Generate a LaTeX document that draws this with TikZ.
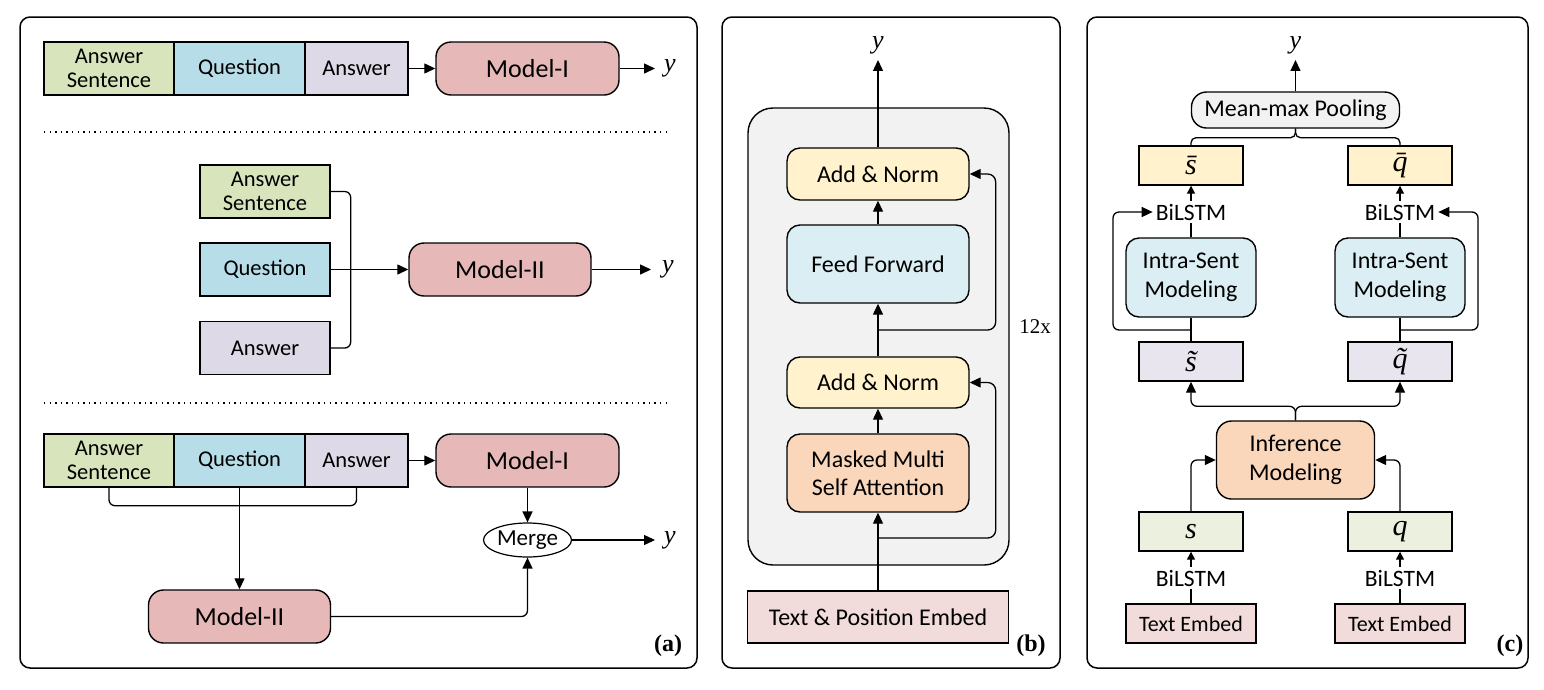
\documentclass[tikz,border=0pt]{standalone}
\usepackage{fontspec}
\setmainfont{Carlito}
\newfontfamily\tms{Liberation Serif}
\usepackage{tikz}
\usetikzlibrary{calc,arrows.meta,shapes.geometric}
\definecolor{sentc}{HTML}{D7E4BC}
\definecolor{questc}{HTML}{B7DEE8}
\definecolor{answc}{HTML}{DDD9E6}
\definecolor{modelc}{HTML}{E6B8B7}
\definecolor{normc}{HTML}{FFF2CC}
\definecolor{ffc}{HTML}{DBEEF4}
\definecolor{attc}{HTML}{FAD7BA}
\definecolor{embc}{HTML}{F2DCDB}
\definecolor{greyc}{HTML}{F2F2F2}
\definecolor{tilc}{HTML}{E8E5EF}
\definecolor{vecc}{HTML}{EBF1DE}
\newcommand{\vy}{{\tms\itshape y}}
\newcommand{\vv}[1]{{\tms\itshape #1}}
% combining macron / tilde keep the accent in the same word
\newcommand{\vbar}[1]{{\tms\itshape #1^^^^0304}}
\newcommand{\vtil}[1]{{\tms\itshape #1^^^^0303}}
\tikzset{
  frame/.style={draw, line width=1.5pt, rounded corners=10pt},
  seg/.style={draw, line width=1.4pt, minimum height=53pt, inner sep=0pt, align=center, font=\fontsize{22.5}{24}\selectfont},
  model/.style={draw, line width=1.4pt, fill=modelc, rounded corners=15pt, minimum width=183pt, minimum height=53pt, font=\fontsize{26}{30}\selectfont},
  blk/.style={draw, line width=1.4pt, rounded corners=13pt, minimum width=182pt, align=center, font=\fontsize{24}{28.5}\selectfont},
  vec/.style={draw, line width=1.4pt, minimum width=104pt, minimum height=39pt, inner sep=0pt, font=\fontsize{30}{34}\selectfont},
  emb/.style={draw, line width=1.4pt, fill=embc, minimum height=39pt, inner sep=0pt, font=\fontsize{22}{26}\selectfont},
  lbl/.style={inner sep=3pt, font=\fontsize{23.5}{26}\selectfont},
  ylab/.style={inner sep=2pt, font=\fontsize{26}{30}\selectfont},
  tag/.style={font=\fontsize{24}{28}\selectfont\tms\bfseries},
  conn/.style={line width=1.3pt},
  arr/.style={conn, -{Triangle[length=11pt,width=10pt]}},
  sarr/.style={conn, -{Triangle[length=8pt,width=8pt]}},
  sep/.style={line width=1.4pt, dash pattern=on 1.4pt off 4.2pt},
}

\begin{document}
\begin{tikzpicture}[x=1pt,y=-1pt]
  \useasboundingbox (0,0) rectangle (1544,689);

  % (a) three ways of combining the models
  \draw[frame] (20,17) rectangle (697,668);
  \node[seg, fill=sentc, minimum width=130pt] (as1) at (109,68.5) {Answer\\Sentence};
  \node[seg, fill=questc, minimum width=131pt] (q1) at (239.5,68.5) {Question};
  \node[seg, fill=answc, minimum width=103pt] (a1) at (356.5,68.5) {Answer};
  \node[model] (m1) at (527.5,68.5) {Model-I};
  \node[ylab] (y1) at (670,68.5) {\vy};
  \draw[arr] (a1) -- (m1);
  \draw[arr, shorten >=7pt] (m1) -- (y1);

  \draw[sep] (44,132) -- (668,132);

  \node[seg, fill=sentc, minimum width=130pt] (as2) at (265,191.5) {Answer\\Sentence};
  \node[seg, fill=questc, minimum width=130pt] (q2) at (265,269.5) {Question};
  \node[seg, fill=answc, minimum width=130pt] (a2) at (265,348) {Answer};
  \node[model, minimum width=182pt] (m2) at (500,269.5) {Model-II};
  \node[ylab] (y2) at (668,269.5) {\vy};
  \draw[conn, rounded corners=6pt] (as2.east) -- ++(20,0) |- (a2.east);
  \draw[arr] (q2) -- (m2);
  \draw[arr, shorten >=9pt] (m2) -- (y2);

  \draw[sep] (44,403) -- (668,403);

  \node[seg, fill=sentc, minimum width=130pt] (as3) at (109,460.5) {Answer\\Sentence};
  \node[seg, fill=questc, minimum width=131pt] (q3) at (239.5,460.5) {Question};
  \node[seg, fill=answc, minimum width=103pt] (a3) at (356.5,460.5) {Answer};
  \node[model] (m3) at (527.5,460.5) {Model-I};
  \node[model, minimum width=182pt] (m4) at (239.5,616.5) {Model-II};
  \node[draw, ellipse, line width=1.2pt, fill=white, minimum width=88pt, minimum height=34pt, inner sep=0pt, font=\fontsize{23}{26}\selectfont] (mrg) at (527.5,540) {Merge};
  \node[ylab] (y3) at (670,540) {\vy};
  \draw[conn, rounded corners=6pt] (as3.south) -- ++(0,18) -| (a3.south);
  \draw[arr] (q3) -- (m4);
  \draw[arr] (a3) -- (m3);
  \draw[arr] (m3) -- (mrg);
  \draw[arr, rounded corners=6pt] (m4.east) -| (mrg.south);
  \draw[arr, shorten >=7pt] (mrg) -- (y3);
  \node[tag] (ta) at (668,646) {(a)};

  % (b) decoder stack
  \draw[frame] (722,17) rectangle (1060,668);
  \draw[line width=1.4pt, fill=greyc, rounded corners=25pt] (748,108) rectangle (1009,565);
  \node[blk, fill=normc, minimum height=52pt] (an1) at (878,174) {Add \& Norm};
  \node[blk, fill=ffc, minimum height=78pt] (ff) at (878,264) {Feed Forward};
  \node[blk, fill=normc, minimum height=51pt] (an2) at (878,382.5) {Add \& Norm};
  \node[blk, fill=attc, minimum height=78pt] (mma) at (878,473) {Masked Multi\\Self Attention};
  \node[emb, minimum width=261pt, minimum height=52pt, font=\fontsize{24}{28}\selectfont] (tpe) at (878,617) {Text \& Position Embed};
  \node[ylab] (yb) at (878,45) {\vy};
  \node[font=\fontsize{21}{24}\selectfont\tms] (rep) at (1035,327) {12x};
  \coordinate (sk1) at (878,330);
  \coordinate (sk2) at (878,538);
  \draw[arr] (tpe) -- (mma);
  \draw[arr] (mma) -- (an2);
  \draw[arr] (an2) -- (ff);
  \draw[arr] (ff) -- (an1);
  \draw[arr, shorten >=4pt] (an1) -- (yb);
  \draw[arr, rounded corners=8pt] (sk2) -| ([xshift=26pt]an2.east) -- (an2.east);
  \draw[arr, rounded corners=8pt] (sk1) -| ([xshift=26pt]an1.east) -- (an1.east);
  \node[tag] (tb) at (1031,646) {(b)};

  % (c) two-branch model
  \draw[frame] (1087,17) rectangle (1528,668);
  \node[blk, fill=greyc, minimum width=208pt, minimum height=36pt, rounded corners=15pt, inner sep=0pt] (pool) at (1295.5,110) {Mean-max Pooling};
  \node[vec, fill=normc] (sb) at (1191,165.5) {\vbar{s}};
  \node[vec, fill=normc] (qb) at (1400,165.5) {\vbar{q}};
  \node[lbl] (bl1) at (1191,212) {BiLSTM};
  \node[lbl] (bl2) at (1400,212) {BiLSTM};
  \node[blk, fill=ffc, minimum width=130pt, minimum height=79pt] (is1) at (1191,277.5) {Intra-Sent\\Modeling};
  \node[blk, fill=ffc, minimum width=130pt, minimum height=79pt] (is2) at (1400,277.5) {Intra-Sent\\Modeling};
  \node[vec, fill=tilc] (st) at (1191,361.5) {\vtil{s}};
  \node[vec, fill=tilc] (qt) at (1400,361.5) {\vtil{q}};
  \node[blk, fill=attc, minimum width=158pt, minimum height=78pt, rounded corners=15pt] (inf) at (1295.5,460) {Inference\\Modeling};
  \node[vec, fill=vecc] (sv) at (1191,531.5) {\vv{s}};
  \node[vec, fill=vecc] (qv) at (1400,531.5) {\vv{q}};
  \node[lbl] (bl3) at (1191,578) {BiLSTM};
  \node[lbl] (bl4) at (1400,578) {BiLSTM};
  \node[emb, minimum width=130pt] (te1) at (1191,623.5) {Text Embed};
  \node[emb, minimum width=130pt] (te2) at (1400,623.5) {Text Embed};
  \node[ylab] (yc) at (1295.5,45) {\vy};
  \coordinate (sk3) at (1191,330);
  \coordinate (sk4) at (1400,330);
  \coordinate (lp1) at (1113,212);
  \coordinate (lp2) at (1478,212);

  \draw[arr, shorten >=4pt] (pool) -- (yc);
  \draw[conn, rounded corners=5pt] (sb.north) |- ($(pool.south)+(0,9)$) -- (pool.south);
  \draw[conn, rounded corners=5pt] (qb.north) |- ($(pool.south)+(0,9)$) -- (pool.south);
  \draw[sarr] (bl1) -- (sb);
  \draw[sarr] (bl2) -- (qb);
  \draw[conn] (is1) -- (bl1);
  \draw[conn] (is2) -- (bl2);
  \draw[conn] (st) -- (is1);
  \draw[conn] (qt) -- (is2);
  \draw[arr, rounded corners=6pt] (sk3) -| (lp1) -- (bl1.west);
  \draw[arr, rounded corners=6pt] (sk4) -| (lp2) -- (bl2.east);
  \draw[arr, rounded corners=6pt] (inf.north) -- ++(0,-14) -| (st.south);
  \draw[arr, rounded corners=6pt] (inf.north) -- ++(0,-14) -| (qt.south);
  \draw[arr, rounded corners=6pt] (sv.north) |- (inf.west);
  \draw[arr, rounded corners=6pt] (qv.north) |- (inf.east);
  \draw[sarr] (bl3) -- (sv);
  \draw[sarr] (bl4) -- (qv);
  \draw[conn] (te1) -- (bl3);
  \draw[conn] (te2) -- (bl4);
  \node[tag] (tc) at (1510,646) {(c)};
\end{tikzpicture}
\end{document}
